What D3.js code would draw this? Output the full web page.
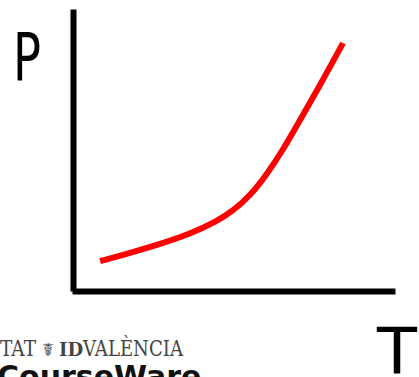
<!DOCTYPE html>
<html>
<head>
<meta charset="utf-8">
<script src="https://cdn.jsdelivr.net/npm/d3@7"></script>
<style>
  html, body { margin: 0; padding: 0; background: #fff; }
  svg { display: block; }
</style>
</head>
<body>
<div id="chart"></div>
<script>
// curve (arbitrary units, 0..10 on both axes)
var temps = [0.87, 1.58, 2.63, 3.65, 4.49, 4.98, 5.51, 6.04, 6.53, 7.06, 7.68, 8.39];
var pressures = [1.06, 1.28, 1.63, 2.02, 2.48, 2.84, 3.37, 4.15, 5.00, 6.06, 7.30, 8.79];
var axisLabels = ["T", "P"];
var footer = ["TAT", "ID", "VALÈNCIA", "CourseWare"];

var width = 419, height = 377;
var margin = { top: 9, right: 24, bottom: 86, left: 72 };

var svg = d3.select("#chart").append("svg")
	.attr("width", width)
	.attr("height", height);

svg.append("rect").attr("width", width).attr("height", height).attr("fill", "#fff");

var xScale = d3.scaleLinear().domain([0, 10]).range([margin.left, width - margin.right]),
	yScale = d3.scaleLinear().domain([0, 10]).range([height - margin.bottom, margin.top]);

var data = temps.map(function(t, i) { return [t, pressures[i]]; });

// axes, plain thick lines with no ticks
var xAxis = d3.axisBottom(xScale).ticks(0).tickSizeOuter(0);
var yAxis = d3.axisLeft(yScale).ticks(0).tickSizeOuter(0);

svg.append("g")
	.attr("transform", "translate(0," + yScale(0) + ")")
	.call(xAxis)
	.select(".domain")
	.attr("stroke", "#000")
	.attr("stroke-width", 6);

svg.append("g")
	.attr("transform", "translate(" + (xScale(0) + 1) + ",0)")
	.call(yAxis)
	.select(".domain")
	.attr("stroke", "#000")
	.attr("stroke-width", 6);

// the red curve
var line = d3.line()
	.x(function(d) { return xScale(d[0]); })
	.y(function(d) { return yScale(d[1]); })
	.curve(d3.curveBasis);

svg.append("path")
	.datum(data)
	.attr("d", line)
	.attr("fill", "none")
	.attr("stroke", "#ff0000")
	.attr("stroke-width", 6)
	.attr("stroke-linecap", "butt");

// axis letters
svg.append("text")
	.attr("x", 13).attr("y", 80)
	.attr("font-family", "DejaVu Sans")
	.attr("font-size", 66)
	.attr("textLength", 28)
	.attr("lengthAdjust", "spacingAndGlyphs")
	.text(axisLabels[1]);

svg.append("text")
	.attr("x", 377).attr("y", 374)
	.attr("font-family", "DejaVu Sans")
	.attr("font-size", 64)
	.attr("textLength", 40)
	.attr("lengthAdjust", "spacingAndGlyphs")
	.text(axisLabels[0]);

// watermark at the bottom left
var wm = svg.append("g").attr("fill", "#444").attr("font-family", "DejaVu Serif");
wm.append("text")
	.attr("x", 0).attr("y", 356)
	.attr("font-size", 22)
	.attr("textLength", 36)
	.attr("lengthAdjust", "spacingAndGlyphs")
	.text(footer[0]);
wm.append("text")
	.attr("x", 42).attr("y", 356)
	.attr("font-size", 18)
	.text("☤");
wm.append("text")
	.attr("x", 59).attr("y", 356)
	.attr("font-size", 18)
	.attr("font-weight", "bold")
	.text(footer[1]);
wm.append("text")
	.attr("x", 83).attr("y", 356)
	.attr("font-size", 22)
	.attr("textLength", 100)
	.attr("lengthAdjust", "spacingAndGlyphs")
	.text(footer[2]);

svg.append("text")
	.attr("x", -3).attr("y", 387)
	.attr("font-family", "DejaVu Sans")
	.attr("font-weight", "bold")
	.attr("font-size", 30)
	.attr("fill", "#111")
	.text(footer[3]);
</script>
</body>
</html>
